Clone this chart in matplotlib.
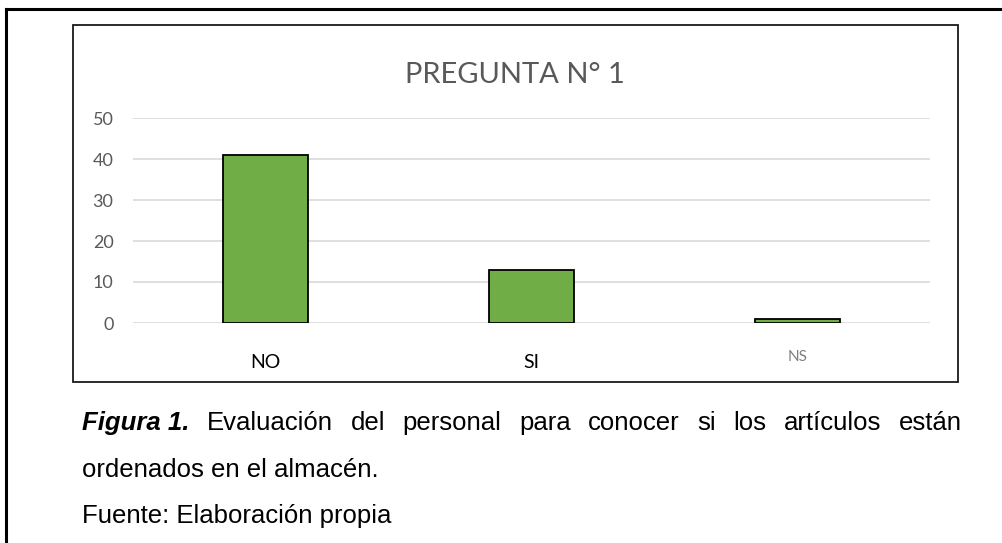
import matplotlib
matplotlib.use("Agg")
import matplotlib.pyplot as plt
import matplotlib.transforms as mtransforms
from matplotlib.patches import Rectangle
from matplotlib.lines import Line2D

# Chart data
categories = ["NO", "SI", "NS"]
counts = [41, 13, 1]
y_ticks = [0, 10, 20, 30, 40, 50]

title = "PREGUNTA N° 1"
caption_bold = "Figura 1."
caption_line1 = "Evaluación del personal para conocer si los artículos están"
caption_line2 = "ordenados en el almacén."
caption_source = "Fuente: Elaboración propia"

W, H = 1003, 543
fig = plt.figure(figsize=(W / 100, H / 100), dpi=100)
fig.patch.set_facecolor("white")


def fx(px):
    return px / W


def fy(py):
    return 1 - py / H


# Outer frame (left + top only visible)
fig.add_artist(Line2D([fx(6), fx(6)], [fy(9), fy(H + 5)], color="black", lw=2.2))
fig.add_artist(Line2D([fx(6), fx(W + 5)], [fy(9), fy(9)], color="black", lw=2.2))

# Chart area border
fig.add_artist(Rectangle((fx(73), fy(382)), fx(958 - 73), (382 - 25) / H,
                         transform=fig.transFigure, fill=False,
                         edgecolor="#1a1a1a", lw=1.3, zorder=1))

ax = fig.add_axes([fx(133), fy(323), fx(930 - 133), (323 - 118) / H])
ax.set_xlim(-0.5, 2.5)
ax.set_ylim(0, 50)
x = list(range(len(categories)))
ax.bar(x, counts, width=0.32, color="#70ad47", edgecolor="black", lw=1.3, zorder=3)

ax.set_yticks(y_ticks)
ax.set_yticklabels([str(t) for t in y_ticks], fontsize=13, color="#595959", family="Lato")
ax.tick_params(axis="y", length=0, pad=14)
ax.grid(axis="y", color="#d9d9d9", lw=1.2, zorder=0)
ax.set_xticks([])
for s in ax.spines.values():
    s.set_visible(False)
ax.patch.set_alpha(0)

# Category labels (white patches under NO and SI cut the border)
blend = mtransforms.blended_transform_factory(ax.transData, fig.transFigure)
for i, lab in enumerate(categories):
    if lab != "NS":
        ax.add_artist(Rectangle((i - 0.16, fy(386)), 0.32, (386 - 345) / H,
                                transform=blend, facecolor="white",
                                edgecolor="none", clip_on=False, zorder=5))
        ax.text(i, fy(362), lab, transform=blend, ha="center", va="center",
                fontsize=14, color="black", family="Lato", zorder=6)
    else:
        ax.text(i, fy(357), lab, transform=blend, ha="center", va="center",
                fontsize=11, color="#7f7f7f", family="Lato", zorder=6)

fig.text(fx(515), fy(75), title, ha="center", va="center", fontsize=21,
         color="#595959", family="Lato")

# Caption
cap_font = "Liberation Sans"
cap_size = 18.5
fig.text(fx(82), fy(470), caption_line2, ha="left", va="center", fontsize=cap_size,
         family=cap_font)
fig.text(fx(82), fy(516), caption_source, ha="left", va="center", fontsize=cap_size,
         family=cap_font)

# First caption line is justified between x=82 and x=962
words = [(caption_bold, True)] + [(w, False) for w in caption_line1.split()]
texts = []
for w, bold in words:
    t = fig.text(0, fy(423), w, ha="left", va="center", fontsize=cap_size,
                 family=cap_font,
                 fontweight="bold" if bold else "normal",
                 fontstyle="italic" if bold else "normal")
    texts.append(t)
fig.canvas.draw()
r = fig.canvas.get_renderer()
widths = [t.get_window_extent(r).width for t in texts]
gap = (962 - 82 - sum(widths)) / (len(texts) - 1)
pos = 82
for t, w in zip(texts, widths):
    t.set_x(fx(pos))
    pos += w + gap

fig.savefig("out.png", dpi=100)
